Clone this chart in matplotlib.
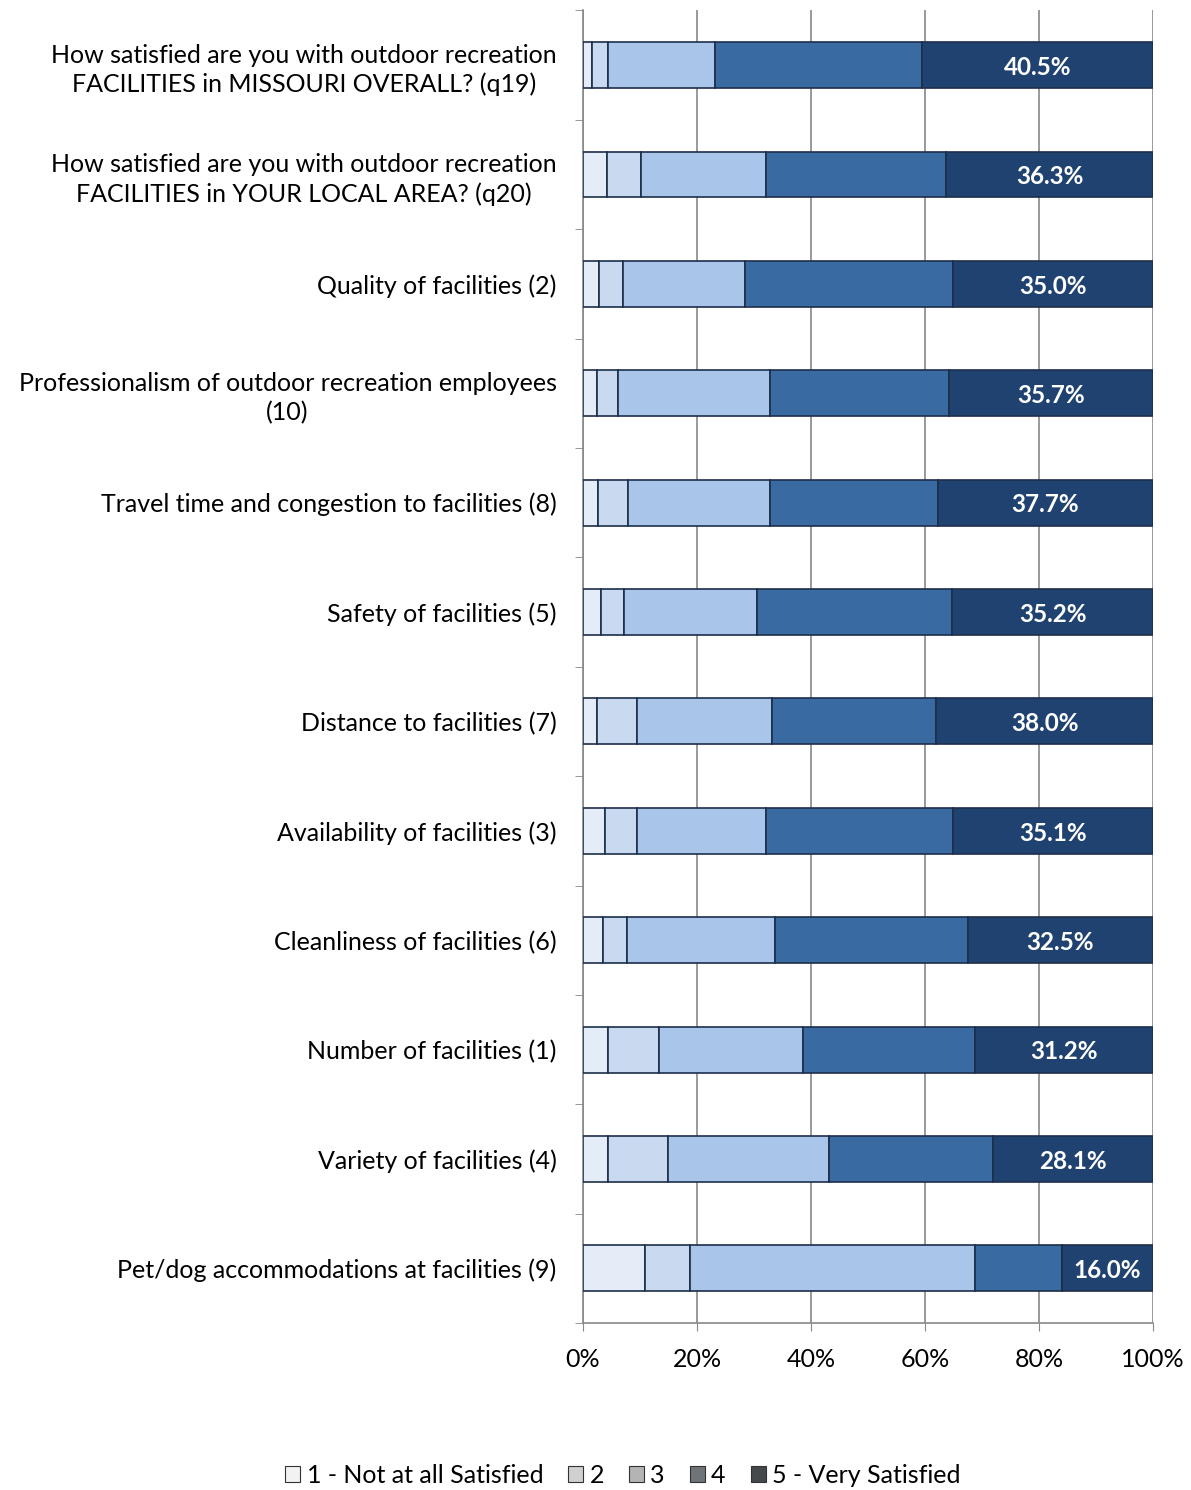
import numpy as np
import matplotlib
matplotlib.use('Agg')
import matplotlib.pyplot as plt
from matplotlib.patches import Patch

plt.rcParams['font.family'] = ['Lato', 'DejaVu Sans']

# Survey items (top to bottom)
categories = [
    'How satisfied are you with outdoor recreation\nFACILITIES in MISSOURI OVERALL? (q19)',
    'How satisfied are you with outdoor recreation\nFACILITIES in YOUR LOCAL AREA? (q20)',
    'Quality of facilities (2)',
    'Professionalism of outdoor recreation employees\n(10)',
    'Travel time and congestion to facilities (8)',
    'Safety of facilities (5)',
    'Distance to facilities (7)',
    'Availability of facilities (3)',
    'Cleanliness of facilities (6)',
    'Number of facilities (1)',
    'Variety of facilities (4)',
    'Pet/dog accommodations at facilities (9)',
]

# percentage of responses for each rating
not_satisfied = [1.6, 4.2, 2.8, 2.5, 2.6, 3.2, 2.5, 3.9, 3.5, 4.4, 4.4, 10.9]
rating_2 = [2.8, 6.0, 4.2, 3.6, 5.3, 4.0, 7.0, 5.6, 4.2, 8.9, 10.5, 7.9]
rating_3 = [18.8, 21.9, 21.4, 26.7, 24.9, 23.3, 23.7, 22.6, 26.0, 25.3, 28.3, 50.0]
rating_4 = [36.3, 31.6, 36.6, 31.5, 29.5, 34.3, 28.8, 32.8, 33.8, 30.2, 28.7, 15.2]
very_satisfied = [40.5, 36.3, 35.0, 35.7, 37.7, 35.2, 38.0, 35.1, 32.5, 31.2, 28.1, 16.0]

series_names = ['1 - Not at all Satisfied', '2', '3', '4', '5 - Very Satisfied']
x_ticks = [0, 20, 40, 60, 80, 100]

series = [not_satisfied, rating_2, rating_3, rating_4, very_satisfied]
bar_colors = ['#e3ecf7', '#c9daf0', '#a9c5ea', '#3a6aa2', '#1f4270']
legend_colors = ['#f2f2f2', '#d0d0d0', '#b4b4b4', '#6f7478', '#44494d']

fig = plt.figure(figsize=(11.91, 14.9), dpi=100)
ax = fig.add_axes([0.4895, 0.112, 0.4785, 0.881])

y = np.arange(len(categories))
left = np.zeros(len(categories))
for vals, col in zip(series, bar_colors):
    vals = np.array(vals)
    ax.barh(y, vals, left=left, height=0.42, color=col,
            edgecolor='#1c2f4a', linewidth=1.2, zorder=3)
    left += vals

# data labels on the "very satisfied" segment
for i, v in enumerate(very_satisfied):
    ax.text(100 - v / 2, y[i] + 0.02, f'{v:.1f}%', ha='center', va='center',
            color='white', fontsize=17.5, fontweight='bold', zorder=4)

ax.set_xlim(0, 100)
ax.set_ylim(len(categories) - 0.5, -0.5)
ax.set_xticks(x_ticks)
ax.set_xticklabels([f'{t}%' for t in x_ticks], fontsize=18)
ax.set_yticks(y)
ax.set_yticklabels(categories, fontsize=18, multialignment='center', linespacing=1.3)
ax.tick_params(axis='y', length=0, pad=19)
ax.tick_params(axis='x', length=6, color='#888888', pad=12)

# small category-separator ticks on the left axis
ax.set_yticks(np.arange(-0.5, len(categories)), minor=True)
ax.tick_params(axis='y', which='minor', length=6, color='#888888')

ax.grid(axis='x', color='#888888', linewidth=1.2, zorder=0)
for s in ['top', 'right']:
    ax.spines[s].set_visible(False)
ax.spines['left'].set_color('#888888')
ax.spines['bottom'].set_color('#888888')
ax.spines['left'].set_linewidth(1.2)
ax.spines['bottom'].set_linewidth(1.2)

handles = [Patch(facecolor=c, edgecolor='#333333', linewidth=0.8) for c in legend_colors]
fig.legend(handles, series_names, loc='center', bbox_to_anchor=(0.523, 0.01),
           ncol=5, frameon=False, fontsize=18, handlelength=0.6, handleheight=0.6,
           handletextpad=0.25, columnspacing=1.0)

fig.savefig('out.png', dpi=100)
